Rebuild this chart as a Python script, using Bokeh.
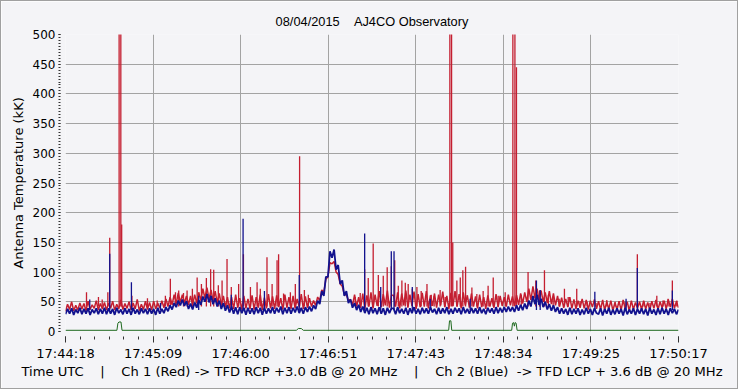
import numpy as np
from bokeh.plotting import figure
from bokeh.models import Range1d, FixedTicker
from bokeh.embed import file_html
from bokeh.resources import INLINE

NB = "\u00a0"
title_text = "08/04/2015" + NB * 4 + "AJ4CO Observatory"
x_label = ("Time UTC" + NB * 4 + "|" + NB * 4 + "Ch 1 (Red) -> TFD RCP +3.0 dB @ 20 MHz"
           + NB * 4 + "|" + NB * 4 + "Ch 2 (Blue)" + NB * 2 + "-> TFD LCP + 3.6 dB @ 20 MHz")
y_label = "Antenna Temperature (kK)"

# x axis: seconds after 17:44:18 UTC
duration = 359
tick_labels = ["17:44:18", "17:45:09", "17:46:00", "17:46:51",
               "17:47:43", "17:48:34", "17:49:25", "17:50:17"]
y_ticks = [0, 50, 100, 150, 200, 250, 300, 350, 400, 450, 500]

# Ch 2 (blue) trace, 300 samples evenly spread over the record
blue_v = [
    29, 38, 30, 39, 28, 37, 31, 40, 29, 38, 30, 39, 28, 37, 31, 39, 29, 38, 30, 40,
    29, 39, 30, 38, 28, 40, 31, 37, 29, 39, 30, 38, 28, 40, 30, 37, 29, 39, 31, 38,
    29, 39, 30, 38, 28, 40, 30, 38, 31, 41, 34, 44, 37, 48, 41, 52, 44, 54, 43, 51,
    38, 47, 37, 49, 40, 53, 45, 59, 50, 63, 49, 60, 46, 56, 42, 52, 38, 48, 35, 44,
    32, 42, 30, 41, 29, 41, 31, 40, 28, 40, 30, 39, 29, 41, 31, 40, 28, 40, 30, 39,
    31, 41, 30, 40, 32, 42, 29, 40, 31, 41, 30, 40, 32, 42, 31, 40, 30, 41, 33, 42,
    34, 44, 38, 52, 46, 68, 60, 92, 92, 135, 124, 138, 104, 112, 80, 86, 60, 68, 48, 54,
    40, 48, 36, 45, 33, 42, 31, 40, 29, 41, 31, 39, 29, 41, 30, 39, 28, 40, 31, 39,
    39, 29, 41, 31, 38, 30, 40, 28, 39, 31, 41, 30, 38, 29, 40, 31, 39, 30, 41, 32,
    38, 29, 40, 30, 39, 31, 41, 29, 38, 30, 40, 32, 39, 29, 41, 31, 38, 30, 40, 31,
    39, 30, 41, 31, 38, 29, 40, 32, 39, 30, 41, 31, 40, 32, 41, 33, 42, 34, 41, 33,
    44, 35, 45, 36, 47, 38, 52, 42, 60, 46, 62, 45, 55, 41, 50, 37, 46, 35, 44, 33,
    41, 30, 39, 30, 38, 28, 40, 29, 38, 30, 39, 28, 37, 29, 40, 30, 38, 28, 39, 31,
    29, 39, 27, 38, 30, 40, 28, 37, 29, 39, 30, 38, 27, 40, 29, 37, 30, 39, 28, 38,
    30, 39, 29, 38, 27, 40, 30, 37, 28, 39, 29, 40, 30, 38, 28, 39, 31, 38, 29, 37,
]

# Ch 1 (red) trace, same sampling
red_v = [
    34, 46, 37, 50, 35, 44, 36, 48, 38, 47, 35, 51, 37, 45, 39, 52, 36, 47, 38, 49,
    36, 48, 39, 51, 36, 46, 38, 53, 37, 47, 39, 50, 36, 48, 38, 54, 35, 46, 37, 51,
    37, 49, 36, 51, 38, 48, 39, 52, 40, 55, 42, 58, 45, 62, 47, 65, 49, 62, 48, 60,
    45, 60, 44, 62, 48, 66, 52, 72, 56, 74, 55, 70, 51, 68, 48, 64, 44, 60, 41, 58,
    39, 58, 38, 62, 40, 56, 37, 60, 39, 55, 38, 61, 37, 58, 40, 62, 36, 57, 39, 63,
    39, 59, 38, 61, 41, 56, 37, 62, 40, 58, 38, 60, 39, 55, 41, 63, 38, 59, 40, 56,
    42, 52, 44, 58, 52, 70, 66, 88, 92, 116, 114, 118, 100, 96, 80, 76, 62, 62, 52, 54,
    44, 62, 42, 58, 40, 64, 38, 61, 42, 66, 39, 62, 43, 68, 41, 63, 44, 69, 40, 61,
    61, 42, 66, 39, 64, 44, 69, 40, 62, 43, 67, 38, 63, 41, 65, 42, 68, 39, 61, 43,
    64, 40, 62, 44, 67, 41, 60, 38, 65, 43, 68, 42, 63, 39, 66, 44, 61, 40, 64, 42,
    59, 39, 62, 41, 58, 38, 61, 42, 56, 40, 63, 41, 60, 43, 58, 42, 62, 44, 59, 43,
    61, 45, 64, 47, 66, 50, 72, 53, 76, 56, 72, 53, 69, 50, 66, 48, 68, 46, 64, 44,
    60, 42, 57, 40, 55, 41, 58, 39, 54, 38, 52, 40, 55, 39, 53, 37, 52, 41, 54, 38,
    51, 37, 53, 36, 50, 38, 52, 35, 49, 37, 51, 36, 53, 38, 50, 35, 52, 37, 49, 39,
    50, 37, 52, 38, 49, 36, 51, 39, 53, 37, 50, 40, 52, 38, 54, 41, 55, 39, 51, 40,
]

# narrow bursts (seconds, peak kK)
red_spike_t = [12.3, 19.3, 21.5, 24.8, 25.9, 31.4, 32.4, 32.9, 38.9, 48.0, 53.7, 58.5,
               61.4, 64.4, 66.3, 69.1, 71.2, 74.3, 77.1, 79.6, 82.5, 85.0, 86.8, 89.5,
               91.7, 94.6, 97.1, 101.4, 104.2, 108.3, 112.2, 114.1, 118.0, 121.0, 123.9,
               124.8, 127.7, 131.7, 134.6, 137.1, 139.9, 142.2, 169.7, 172.6, 175.2,
               177.3, 180.2, 183.2, 186.1, 188.4, 190.8, 192.8, 194.9, 197.0, 199.0,
               200.7, 203.1, 205.8, 208.3, 211.7, 214.2, 215.9, 219.4, 222.4, 225.1,
               226.1, 226.8, 229.2, 231.2, 232.7, 234.3, 238.0, 240.9, 244.6, 247.5,
               250.5, 253.4, 257.5, 262.0, 263.2, 264.1, 266.9, 270.9, 275.4, 277.6,
               280.5, 282.8, 285.6, 289.1, 292.2, 294.4, 299.4, 301.4, 305.5, 310.7,
               317.0, 321.9, 327.7, 334.9, 338.8, 342.3, 346.3, 349.9, 352.9, 355.4, 358.0]
red_spike_top = [66, 58, 54, 66, 158, 520, 520, 180, 60, 56, 52, 60,
                 89, 66, 69, 65, 69, 72, 91, 80, 90, 105, 104, 78,
                 86, 122, 75, 80, 130, 75, 83, 72, 125, 80, 120,
                 130, 64, 66, 80, 295, 70, 62, 58, 65, 105,
                 90, 148, 95, 94, 108, 110, 120, 77, 86, 82,
                 80, 72, 75, 68, 80, 62, 60, 70, 58, 520,
                 520, 150, 86, 91, 103, 109, 74, 63, 68, 77,
                 91, 60, 66, 520, 520, 445, 62, 100, 86, 69,
                 103, 62, 58, 55, 72, 58, 72, 51, 50, 48,
                 53, 50, 50, 130, 50, 48, 60, 52, 55, 86, 52]
blue_spike_t = [14.2, 25.9, 38.6, 55.6, 78.0, 97.1, 104.0, 116.5, 136.9, 175.2, 184.6,
                190.8, 192.4, 203.1, 213.6, 237.0, 275.8, 278.0, 310.0, 328.3, 334.9, 355.4]
blue_spike_top = [54, 131, 83, 48, 60, 62, 190, 68, 95, 165, 75,
                  135, 135, 75, 55, 55, 86, 70, 67, 55, 107, 69]
red_floor = 42
blue_floor = 36

# third trace (green) near zero
green_t = [0, 30.1, 30.7, 31.3, 32.5, 33.1, 135.2, 136.4, 138.1, 139.3, 224.4, 224.9,
           225.7, 226.2, 261.3, 261.8, 262.4, 262.9, 263.3, 263.9, 264.5, 359]
green_v = [2, 2, 14, 16, 16, 2, 2, 5, 5, 2, 2, 18,
           18, 2, 2, 14, 15, 9, 15, 14, 2, 2]

sample_t = np.linspace(0, duration, len(blue_v))
x_major = list(np.linspace(0, duration, len(tick_labels)))
x_minor = list(np.linspace(0, duration, (len(tick_labels) - 1) * 6 + 1))
y_minor = list(range(0, 501, 5))

BG = "#f4f4f7"
GRID = "#a3a3a3"
RED = "#c41e30"
BLUE = "#12128e"
GREEN = "#1f6a1f"

p = figure(frame_width=613, frame_height=297,
           x_range=Range1d(0, duration), y_range=Range1d(0, 500),
           output_backend="svg", toolbar_location=None,
           min_border_left=64, min_border_right=59, min_border_top=33, min_border_bottom=57,
           background_fill_color=BG, border_fill_color=BG, outline_line_color=None,
           styles={"border": "1px solid #a0a0a0"})

p.title.text = title_text
p.title.align = "center"
p.title.text_font = "Liberation Sans"
p.title.text_font_size = "12.8px"
p.title.text_font_style = "normal"
p.title.text_color = "#000000"
p.title.standoff = 12

p.line(sample_t, red_v, line_color=RED, line_width=1.5)
p.segment(x0=red_spike_t, y0=red_floor, x1=red_spike_t, y1=red_spike_top,
          line_color=RED, line_width=1.3)
p.line(sample_t, blue_v, line_color=BLUE, line_width=1.8)
p.segment(x0=blue_spike_t, y0=blue_floor, x1=blue_spike_t, y1=blue_spike_top,
          line_color=BLUE, line_width=1.3)
p.line(green_t, green_v, line_color=GREEN, line_width=1)

p.xgrid.ticker = FixedTicker(ticks=x_major)
p.ygrid.ticker = FixedTicker(ticks=y_ticks[1:])
p.grid.grid_line_color = GRID
p.grid.grid_line_width = 1

xa = p.xaxis[0]
xa.ticker = FixedTicker(ticks=x_major, minor_ticks=x_minor)
xa.major_label_overrides = {float(t): lab for t, lab in zip(x_major, tick_labels)}
xa.axis_label = x_label
xa.axis_line_color = None
xa.major_tick_in = -5
xa.major_tick_out = 11
xa.minor_tick_in = -5
xa.minor_tick_out = 8
xa.major_label_standoff = 3
xa.axis_label_standoff = 0

ya = p.yaxis[0]
ya.ticker = FixedTicker(ticks=y_ticks, minor_ticks=y_minor)
ya.axis_label = y_label
ya.axis_line_color = None
ya.major_tick_in = -5
ya.major_tick_out = 7
ya.minor_tick_in = -5
ya.minor_tick_out = 7
ya.major_label_standoff = 3
ya.axis_label_standoff = 4

for ax in (xa, ya):
    ax.major_tick_line_color = "#333333"
    ax.minor_tick_line_color = "#333333"
    ax.major_label_text_font = "DejaVu Sans"
    ax.major_label_text_color = "#000000"
    ax.axis_label_text_font = "DejaVu Sans"
    ax.axis_label_text_font_style = "normal"
    ax.axis_label_text_color = "#000000"
    ax.axis_label_text_font_size = "13px"
xa.axis_label_text_font_size = "13.1px"
xa.major_label_text_font_size = "13px"
ya.major_label_text_font_size = "12px"

open("out.html", "w").write(file_html(p, INLINE))
